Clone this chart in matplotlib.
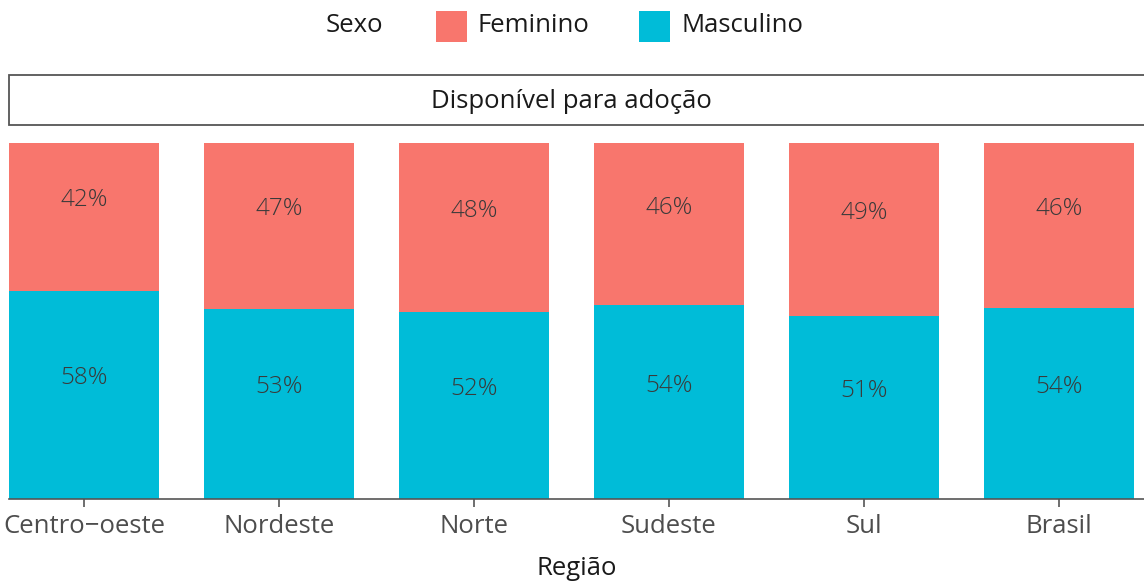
import numpy as np
import matplotlib.pyplot as plt
from matplotlib.patches import Rectangle

plt.rcParams['font.family'] = ['Open Sans', 'DejaVu Sans']

# dados
regioes = ['Centro\u2212oeste', 'Nordeste', 'Norte', 'Sudeste', 'Sul', 'Brasil']
masculino = [58.4, 53.4, 52.5, 54.4, 51.5, 53.7]
feminino = [41.6, 46.6, 47.5, 45.6, 48.5, 46.3]
rot_masc = ['58%', '53%', '52%', '54%', '51%', '54%']
rot_fem = ['42%', '47%', '48%', '46%', '49%', '46%']

cor_fem = '#F8766D'
cor_masc = '#00BCD8'

W, H = 1144, 586
fig = plt.figure(figsize=(W / 100, H / 100), dpi=100)

# eixo principal (em pixels da figura)
x0, x1 = 9, 1144
y_bot, y_top = 499, 143
ax = fig.add_axes([x0 / W, 1 - y_bot / H, (x1 - x0) / W, (y_bot - y_top) / H])

x = np.arange(len(regioes))
largura = 0.77
m = np.array(masculino) / 100
f = np.array(feminino) / 100
tot = m + f
m, f = m / tot, f / tot

ax.bar(x, m, width=largura, color=cor_masc, linewidth=0)
ax.bar(x, f, width=largura, bottom=m, color=cor_fem, linewidth=0)

for i in range(len(x)):
    ax.annotate(rot_masc[i], (x[i], m[i] / 2), xytext=(0, 12), textcoords='offset points',
                ha='center', va='center', fontsize=17.5, color='#3a3a3a', fontweight='light')
    ax.annotate(rot_fem[i], (x[i], m[i] + f[i] / 2), xytext=(0, 12), textcoords='offset points',
                ha='center', va='center', fontsize=17.5, color='#3a3a3a', fontweight='light')

esq = -largura / 2
px = (len(x) - 1 + largura) / (1134 - 9)
ax.set_xlim(esq, esq + (x1 - x0) * px)
ax.set_ylim(0, 1)
ax.set_yticks([])
for s in ['top', 'right', 'left']:
    ax.spines[s].set_visible(False)
ax.spines['bottom'].set_color('#555555')
ax.spines['bottom'].set_linewidth(1.2)
ax.set_xticks(x)
ax.set_xticklabels(regioes, fontsize=18.5, color='#4d4d4d')
ax.tick_params(axis='x', length=6, width=1.2, color='#555555', pad=5)
ax.set_xlabel('Região', fontsize=18.5, color='#1a1a1a', labelpad=12)

# faixa do painel
fig.patches.append(Rectangle((x0 / W, 1 - 125 / H), (x1 - x0 + 5) / W, 50 / H,
                             transform=fig.transFigure, facecolor='white',
                             edgecolor='#555555', linewidth=1.3))
fig.text((x0 + 1134) / 2 / W, 1 - 102 / H, 'Disponível para adoção', ha='center',
         va='center', fontsize=18.5, color='#1a1a1a')

# legenda
yl = 1 - 26 / H
fig.text(326 / W, yl, 'Sexo', ha='left', va='center', fontsize=18.5, color='#1a1a1a')
fig.patches.append(Rectangle((436 / W, 1 - 42 / H), 31 / W, 31 / H, transform=fig.transFigure,
                             facecolor=cor_fem, edgecolor='none'))
fig.text(478 / W, yl, 'Feminino', ha='left', va='center', fontsize=18.5, color='#1a1a1a')
fig.patches.append(Rectangle((639 / W, 1 - 42 / H), 31 / W, 31 / H, transform=fig.transFigure,
                             facecolor=cor_masc, edgecolor='none'))
fig.text(681 / W, yl, 'Masculino', ha='left', va='center', fontsize=18.5, color='#1a1a1a')

fig.savefig('out.png', dpi=100)
